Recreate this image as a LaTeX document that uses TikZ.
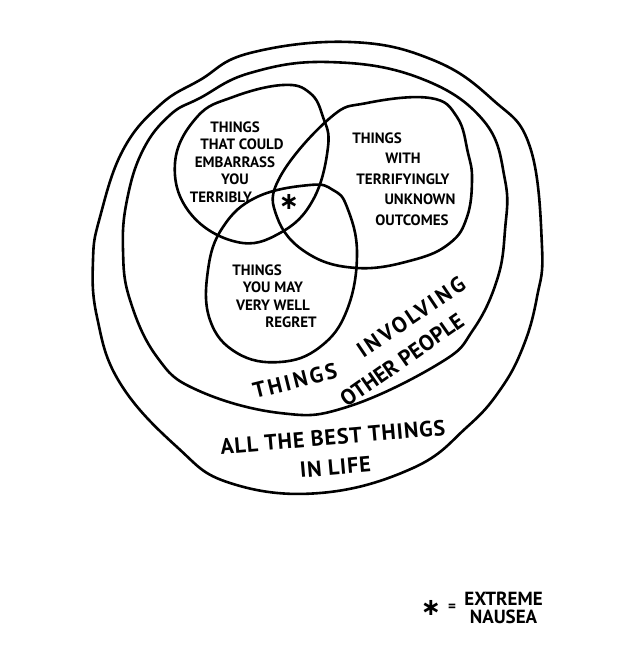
\documentclass[tikz,border=0pt]{standalone}
\usepackage{fontspec}
\setmainfont{PT Sans}
\newfontfamily\symfont{DejaVu Sans}
\usetikzlibrary{positioning}
\tikzset{
  blob/.style={draw, line width=2.6pt, line join=round},
  lbl/.style={align=center, inner sep=0pt, font=\bfseries\fontsize{15}{17.5}\selectfont},
  biglbl/.style={align=center, inner sep=0pt, font=\bfseries\fontsize{22}{30}\selectfont},
  widelbl/.style={biglbl, font=\bfseries\fontsize{22}{30}\selectfont\addfontfeature{LetterSpace=12}},
  star/.style={inner sep=0pt, font=\symfont\bfseries\fontsize{24}{24}\selectfont},
}

\begin{document}
\begin{tikzpicture}[x=1pt, y=-1pt]
  \useasboundingbox (0,0) rectangle (635,645);

  % outer blob and the people blob
  \draw[blob] plot[smooth cycle, tension=0.7] coordinates {
    (350,42) (433,60) (493,100) (530,147) (542,247) (537,297) (523,347)
    (500,390) (467,427) (413,468) (320,493) (230,483) (177,447) (120,383)
    (97,317) (93,260) (100,217) (123,150) (160,105) (200,80) (250,53)};
  \draw[blob] plot[smooth cycle, tension=0.7] coordinates {
    (327,62) (417,77) (483,120) (505,180) (505,230) (497,280) (473,330)
    (440,363) (347,407) (280,413) (197,390) (157,357) (130,300) (123,250)
    (127,200) (143,150) (170,115) (200,98) (250,73)};

  % the three sets
  \draw[blob] plot[smooth cycle, tension=0.7] coordinates {
    (283,85) (310,93) (323,117) (328,147) (313,200) (280,233) (237,242)
    (190,213) (175,163) (197,117) (233,97)};
  \draw[blob] plot[smooth cycle, tension=0.7] coordinates {
    (367,103) (430,98) (457,117) (468,153) (472,180) (467,217) (450,243)
    (413,260) (357,268) (307,253) (277,217) (280,177) (330,118)};
  \draw[blob] plot[smooth cycle, tension=0.7] coordinates {
    (310,185) (333,190) (347,207) (357,253) (347,310) (320,347) (280,362)
    (237,353) (210,320) (208,270) (223,227) (257,197)};

  \node[lbl] (embarrass) at (235,162) {THINGS\\\hspace*{14pt}THAT COULD\\EMBARRASS\\
    YOU\hspace*{20pt}\\TERRIBLY\hspace*{28pt}};
  \node[lbl, font=\bfseries\fontsize{15}{20.5}\selectfont] (unknown) at (403,179)
    {THINGS\hspace*{52pt}\\WITH\hspace*{24pt}\\TERRIFYINGLY\\\hspace*{34pt}UNKNOWN\\
    \hspace*{18pt}OUTCOMES};
  \node[lbl] (regret) at (273,296) {THINGS\hspace*{32pt}\\YOU MAY\\VERY WELL\\
    \hspace*{36pt}REGRET};
  \node[star] (centre) at (289,202) {∗};

  \node[widelbl, rotate=14] (people1) at (295,381) {THINGS};
  \node[widelbl, rotate=34] (people2) at (411,317) {INVOLVING};
  \node[biglbl, rotate=35] (people3) at (402,360) {OTHER PEOPLE};

  \node[biglbl, font=\bfseries\fontsize{22}{30}\selectfont\addfontfeature{LetterSpace=4},
    rotate=5] (best) at (334,452) {ALL THE BEST THINGS\\IN LIFE};

  % legend
  \node[star] (key) at (431,608) {∗};
  \node[lbl] (eq) at (452,608) {=};
  \node[lbl, font=\bfseries\fontsize{19}{18}\selectfont, right=8pt of eq] (keytext) {EXTREME\\NAUSEA};
\end{tikzpicture}
\end{document}
